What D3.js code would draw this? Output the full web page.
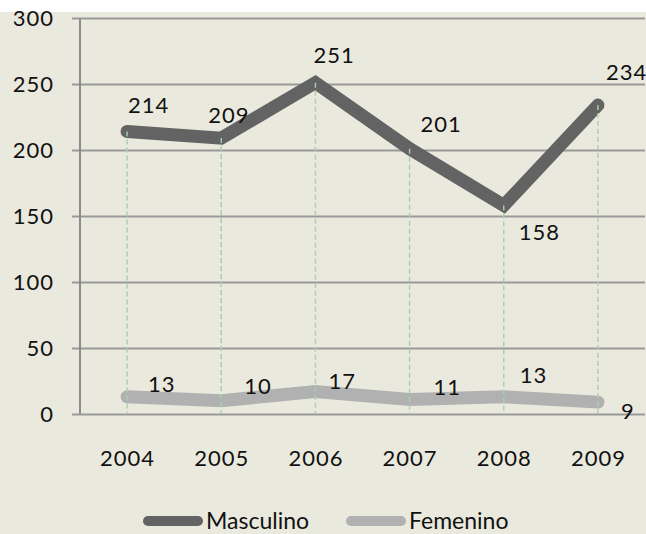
<!DOCTYPE html>
<html>
<head>
	<title>Masculino / Femenino 2004-2009</title>
	<script src="https://cdn.jsdelivr.net/npm/d3@7"></script>
	<style>
		body { margin: 0; background: #fff; }
		svg { display: block; font-family: Lato, "Open Sans", sans-serif; }
		.grid line { stroke: #999; stroke-width: 2; }
		.tick text { fill: #111; }
		.num { font-size: 22px; letter-spacing: 1px; }
	</style>
</head>
<body>
	<svg id="chart" width="646" height="534"></svg>
	<script>
		// chart values
		const years = ["2004", "2005", "2006", "2007", "2008", "2009"];
		const masculino = [214, 209, 251, 201, 158, 234];
		const femenino = [13, 10, 17, 11, 13, 9];
		const yTicks = [0, 50, 100, 150, 200, 250, 300];
		const seriesNames = ["Masculino", "Femenino"];

		// where each value label sits relative to its point (layout only)
		const mascLabelOffset = [[1, -19], [-13, -15], [-2, -20], [11, -17], [15, 35], [8, -25]];
		const femLabelOffset = [[21, -5], [23, -7], [13, -3], [24, -4], [16, -14], [23, 17]];

		const svg = d3.select("#chart");
		const W = 646, H = 534;
		const plotL = 80, plotR = 645, plotT = 18, plotB = 414;

		svg.append("rect").attr("x", 0).attr("y", 12).attr("width", W).attr("height", H - 12).attr("fill", "#eae9dd");

		const x = d3.scalePoint().domain(years).range([plotL, plotR]).padding(0.5);
		const y = d3.scaleLinear().domain([0, 300]).range([plotB, plotT]);

		// horizontal gridlines + y labels
		const yAxis = svg.append("g")
			.attr("class", "grid")
			.attr("transform", "translate(" + plotL + ",0)")
			.call(d3.axisLeft(y).tickValues(yTicks).tickSize(-(plotR - plotL)).tickSizeOuter(0).tickPadding(0));
		yAxis.select(".domain").remove();
		yAxis.selectAll(".tick line").attr("x1", -8).attr("x2", plotR - plotL);
		yAxis.selectAll(".tick text")
			.attr("class", "num")
			.attr("x", -26)
			.attr("dy", "0.32em")
			.style("font-family", "Lato, sans-serif");

		// vertical axis line
		svg.append("line")
			.attr("x1", plotL).attr("x2", plotL)
			.attr("y1", y(300)).attr("y2", y(0))
			.attr("stroke", "#8c8c8c").attr("stroke-width", 2);

		// x labels
		const xAxis = svg.append("g")
			.attr("transform", "translate(0," + plotB + ")")
			.call(d3.axisBottom(x).tickSize(0).tickPadding(0));
		xAxis.select(".domain").remove();
		xAxis.selectAll(".tick text")
			.attr("class", "num")
			.attr("y", 52)
			.attr("dy", 0)
			.style("font-family", "Lato, sans-serif");

		const line = d3.line().x((d, i) => x(years[i])).y(d => y(d));

		function drawLine(values, color) {
			svg.append("path")
				.datum(values)
				.attr("d", line)
				.attr("fill", "none")
				.attr("stroke", color)
				.attr("stroke-width", 13)
				.attr("stroke-linecap", "round")
				.attr("stroke-linejoin", "miter");
		}

		function drawLabels(values, offsets) {
			svg.append("g").selectAll("text")
				.data(values)
				.join("text")
				.attr("class", "num")
				.attr("x", (d, i) => x(years[i]) + offsets[i][0])
				.attr("y", (d, i) => y(d) + offsets[i][1])
				.attr("text-anchor", "start")
				.attr("fill", "#111")
				.text(d => d);
		}

		drawLine(femenino, "#b1b1b1");
		drawLine(masculino, "#636363");

		// dashed drop lines, on top of both series
		svg.append("g").selectAll("line")
			.data(years)
			.join("line")
			.attr("x1", d => x(d)).attr("x2", d => x(d))
			.attr("y1", (d, i) => y(masculino[i])).attr("y2", y(0))
			.attr("stroke", "#a6d2ab").attr("stroke-width", 1.4)
			.attr("stroke-dasharray", "5,3");

		drawLabels(femenino, femLabelOffset);
		drawLabels(masculino, mascLabelOffset);

		// legend
		const legendColors = ["#636363", "#b1b1b1"];
		const legendX = [143, 346];
		const lg = svg.append("g").selectAll("g")
			.data(seriesNames)
			.join("g")
			.attr("transform", (d, i) => "translate(" + legendX[i] + ",521)");
		lg.append("line")
			.attr("x1", 5).attr("x2", 55)
			.attr("stroke", (d, i) => legendColors[i])
			.attr("stroke-width", 10)
			.attr("stroke-linecap", "round");
		lg.append("text")
			.attr("x", 63)
			.attr("y", 8)
			.style("font-size", "23px")
			.attr("fill", "#111")
			.text(d => d);
	</script>
</body>
</html>
